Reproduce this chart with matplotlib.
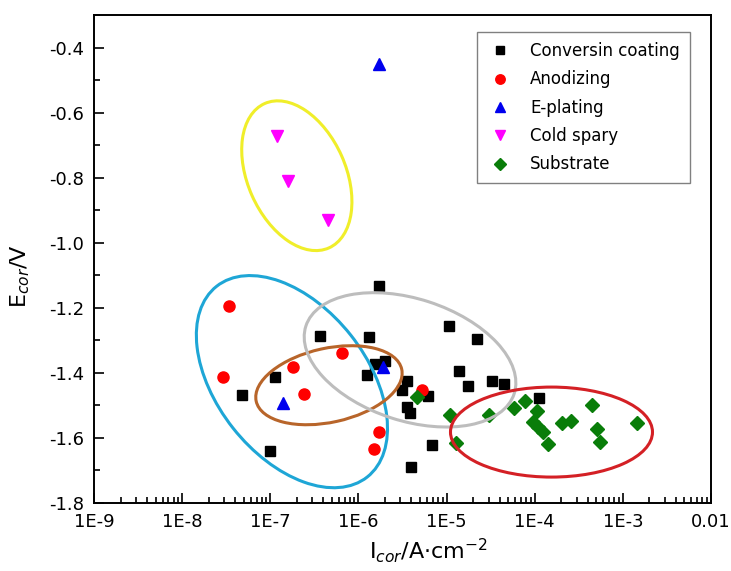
import numpy as np, matplotlib; matplotlib.use("Agg")
import matplotlib.pyplot as plt
from matplotlib.patches import Ellipse
from matplotlib.transforms import ScaledTranslation
from matplotlib.ticker import LogLocator, MultipleLocator, NullFormatter

plt.rcParams['font.family'] = ['DejaVu Sans']
plt.rcParams['axes.unicode_minus'] = False

# --- 数据 (I_cor A/cm2, E_cor V) ---
conv_i = [4.8e-8, 1.0e-7, 1.12e-7, 3.7e-7, 1.71e-6, 1.33e-6, 1.24e-6, 2.0e-6, 1.54e-6,
          3.59e-6, 3.09e-6, 3.53e-6, 3.8e-6, 6.2e-6, 6.76e-6, 3.98e-6, 1.07e-5, 2.2e-5,
          1.37e-5, 1.77e-5, 3.31e-5, 4.49e-5, 1.11e-4]
conv_e = [-1.467, -1.64, -1.414, -1.286, -1.133, -1.289, -1.408, -1.363, -1.373,
          -1.426, -1.454, -1.506, -1.523, -1.472, -1.623, -1.689, -1.256, -1.296,
          -1.395, -1.439, -1.426, -1.434, -1.478]
anod_i = [3.43e-8, 2.88e-8, 1.79e-7, 2.39e-7, 6.56e-7, 5.31e-6, 1.70e-6, 1.50e-6]
anod_e = [-1.195, -1.414, -1.383, -1.465, -1.340, -1.452, -1.582, -1.635]
eplat_i = [1.88e-6, 1.41e-7, 1.71e-6]
eplat_e = [-1.383, -1.493, -0.450]
cold_i = [1.2e-7, 1.6e-7, 4.55e-7]
cold_e = [-0.672, -0.810, -0.929]
sub_i = [4.66e-6, 1.09e-5, 1.29e-5, 3.05e-5, 5.86e-5, 7.76e-5, 1.05e-4, 9.64e-5, 1.10e-4,
         1.23e-4, 1.41e-4, 2.02e-4, 2.56e-4, 4.50e-4, 5.05e-4, 5.51e-4, 1.43e-3]
sub_e = [-1.475, -1.528, -1.616, -1.531, -1.509, -1.485, -1.516, -1.551, -1.567,
         -1.582, -1.618, -1.553, -1.548, -1.500, -1.572, -1.613, -1.553]

xticks = [1e-9, 1e-8, 1e-7, 1e-6, 1e-5, 1e-4, 1e-3, 1e-2]
xtick_labels = ['1E-9', '1E-8', '1E-7', '1E-6', '1E-5', '1E-4', '1E-3', '0.01']

# 圈: 中心(I, E), 长轴/短轴(英寸), 角度
ell_center_i = [2.0e-7, 1.76e-7, 4.63e-7, 3.85e-6, 1.55e-4]
ell_center_e = [-0.794, -1.427, -1.438, -1.360, -1.582]
ell_w = [1.58, 2.43, 1.49, 2.19, 2.02]
ell_h = [0.98, 1.50, 0.74, 1.22, 0.90]
ell_ang = [-66, -51.7, 12.4, -18, 0]
ell_col = ['#f0ee2a', '#1ea6d6', '#b8652a', '#bdbdbd', '#d42025']

fig = plt.figure(figsize=(7.31, 5.71), dpi=100)
ax = fig.add_axes([94/731, 68/571, 617/731, 488/571])
ax.set_xscale('log')

ax.plot(conv_i, conv_e, 's', ls='none', ms=7.2, color='black', label='Conversin coating')
ax.plot(anod_i, anod_e, 'o', ls='none', ms=8, color='#ff0000', label='Anodizing')
ax.plot(eplat_i, eplat_e, '^', ls='none', ms=9, color='#0000ee', label='E-plating')
ax.plot(cold_i, cold_e, 'v', ls='none', ms=9, color='#ff00ff', label='Cold spary')
ax.plot(sub_i, sub_e, 'D', ls='none', ms=6.8, color='#097d09', label='Substrate')

for ci, ce, w, h, a, c in zip(ell_center_i, ell_center_e, ell_w, ell_h, ell_ang, ell_col):
    tr = fig.dpi_scale_trans + ScaledTranslation(ci, ce, ax.transData)
    ax.add_patch(Ellipse((0, 0), w, h, angle=a, transform=tr, fill=False,
                         edgecolor=c, lw=2.2, zorder=5))

ax.set_xlim(1e-9, 1e-2)
ax.set_ylim(-1.8, -0.3)
ax.set_xticks(xticks)
ax.set_xticklabels(xtick_labels)
ax.xaxis.set_minor_locator(LogLocator(base=10, subs=np.arange(2, 10), numticks=20))
ax.xaxis.set_minor_formatter(NullFormatter())
ax.set_yticks(np.arange(-1.8, -0.39, 0.2))
ax.set_yticklabels([f'{v:.1f}' for v in np.arange(-1.8, -0.39, 0.2)])
ax.yaxis.set_minor_locator(MultipleLocator(0.1))
ax.tick_params(which='both', direction='in', top=False, right=False, labelsize=13, width=1.2)
ax.tick_params(which='major', length=7, pad=7)
ax.tick_params(which='minor', length=4)
for s in ax.spines.values(): s.set_linewidth(1.4)

ax.set_xlabel('I$_{cor}$/A·cm$^{-2}$', fontsize=16)
ax.xaxis.set_label_coords(0.543, -0.068)
ax.set_ylabel('E$_{cor}$/V', fontsize=16)
ax.yaxis.set_label_coords(-0.1, 0.465)

leg = ax.legend(loc='upper right', bbox_to_anchor=(0.966, 0.965), borderaxespad=0,
                fontsize=12, fancybox=False, edgecolor='#808080', framealpha=1,
                labelspacing=0.62, handletextpad=1.0, borderpad=0.6, handlelength=1.6,
                markerscale=0.85)
leg.get_frame().set_linewidth(1.0)

plt.savefig('out.png', dpi=100)
